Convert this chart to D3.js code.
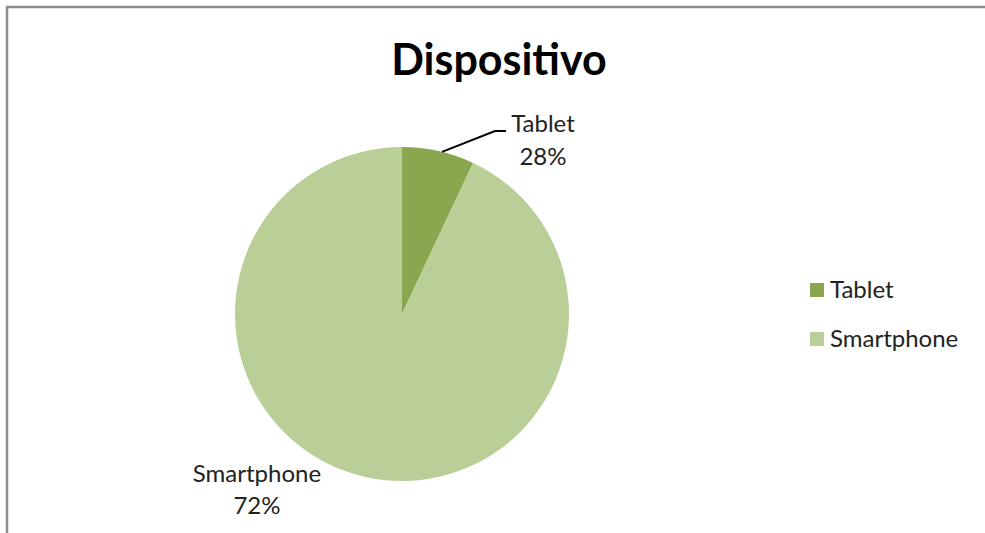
<!DOCTYPE html>
<html>
<head>
<meta charset="utf-8">
<script src="https://cdn.jsdelivr.net/npm/d3@7"></script>
<style>
  body { margin: 0; background: #fff; }
  text { font-family: Lato, "Open Sans", sans-serif; fill: #222; }
</style>
</head>
<body>
<svg id="chart"></svg>
<script>
const categories = ['Tablet', 'Smartphone'];
// slice sizes as drawn in the picture
const sliceValues = [7, 93];
// percentage labels as printed on the chart
const pctLabels = ['28%', '72%'];
const colors = ['#89a74f', '#b9cf97'];

const w = 985, h = 533;
const svg = d3.select('#chart').attr('width', w).attr('height', h);

// frame (top and left edges visible)
svg.append('path')
  .attr('d', `M7,${h} V7 H${w}`)
  .attr('fill', 'none')
  .attr('stroke', '#8c8c8c')
  .attr('stroke-width', 2.5);

svg.append('text')
  .attr('x', 499).attr('y', 75)
  .attr('text-anchor', 'middle')
  .style('font-size', '43px').style('font-weight', 'bold')
  .style('fill', '#000')
  .text('Dispositivo');

const cx = 402, cy = 314, r = 167;
const pie = d3.pie().sort(null)(sliceValues);
const arc = d3.arc().innerRadius(0).outerRadius(r);

const g = svg.append('g').attr('transform', `translate(${cx},${cy})`);
g.selectAll('path.slice')
  .data(pie)
  .join('path')
  .attr('class', 'slice')
  .attr('d', arc)
  .attr('fill', (d, i) => colors[i]);

// leader line for Tablet
const a0 = pie[0].startAngle + (pie[0].endAngle - pie[0].startAngle) * 0.55;
const p0 = [cx + Math.sin(a0) * r, cy - Math.cos(a0) * r];
svg.append('polyline')
  .attr('points', `${p0[0]},${p0[1]} 495,131 506,131`)
  .attr('fill', 'none')
  .attr('stroke', '#000')
  .attr('stroke-width', 2);

const labelPos = [[543, 132, 165], [257, 482, 514]];
categories.forEach((c, i) => {
  const t = svg.append('text')
    .attr('text-anchor', 'middle')
    .style('font-size', '24px');
  t.append('tspan').attr('x', labelPos[i][0]).attr('y', labelPos[i][1]).text(c);
  t.append('tspan').attr('x', labelPos[i][0]).attr('y', labelPos[i][2]).text(pctLabels[i]);
});

// legend
const legend = svg.append('g').attr('transform', 'translate(810,283)');
const items = legend.selectAll('g')
  .data(categories)
  .join('g')
  .attr('transform', (d, i) => `translate(0,${i * 49})`);
items.append('rect')
  .attr('width', 14).attr('height', 14)
  .attr('fill', (d, i) => colors[i]);
items.append('text')
  .attr('x', 20).attr('y', 15)
  .style('font-size', '24px')
  .text(d => d);
</script>
</body>
</html>
